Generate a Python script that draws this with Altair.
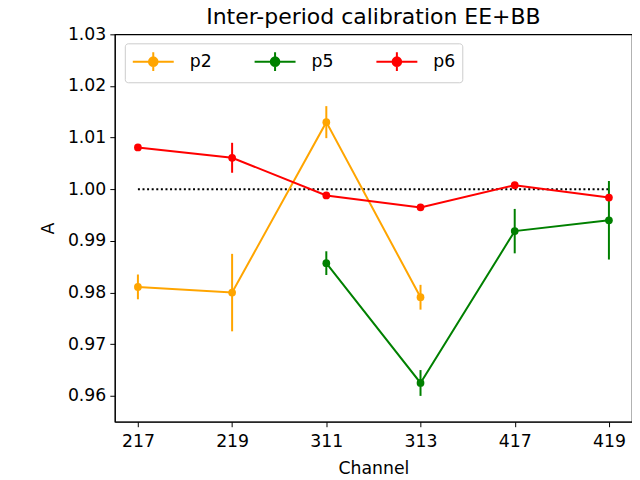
import altair as alt
import pandas as pd

channels = ["217", "219", "311", "313", "417", "419"]

p2_idx = [0, 1, 2, 3]
p2_val = [0.9811, 0.9800, 1.0130, 0.9791]
p2_err = [0.0024, 0.0075, 0.0031, 0.0024]

p5_idx = [2, 3, 4, 5]
p5_val = [0.9857, 0.9625, 0.9919, 0.9940]
p5_err = [0.0023, 0.0025, 0.0043, 0.0076]

p6_idx = [0, 1, 2, 3, 4, 5]
p6_val = [1.0081, 1.0061, 0.9988, 0.9965, 1.0008, 0.9984]
p6_err = [0.0002, 0.0029, 0.0002, 0.0002, 0.0003, 0.0002]

series_names = ["p2", "p5", "p6"]
series_colors = ["orange", "green", "red"]

rows = []
for name, idx, val, err in [("p2", p2_idx, p2_val, p2_err),
                            ("p5", p5_idx, p5_val, p5_err),
                            ("p6", p6_idx, p6_val, p6_err)]:
    for i, v, e in zip(idx, val, err):
        rows.append({"series": name, "x": i, "A": v, "lo": v - e, "hi": v + e})
df = pd.DataFrame(rows)

ref_df = pd.DataFrame({"x": [0, 5], "A": [1.0, 1.0]})

label_expr = "[" + ",".join(f"'{c}'" for c in channels) + "][datum.value]"

FONT = "DejaVu Sans"
FS = 17.3

xscale = alt.Scale(domain=[-0.245, 5.245], nice=False, zero=False)
yscale = alt.Scale(domain=[0.955, 1.03], nice=False, zero=False)

xax = alt.Axis(values=list(range(6)), labelExpr=label_expr, title="Channel",
               grid=False, tickColor="black", domainColor="black", tickSize=5,
               labelFontSize=FS, titleFontSize=FS, labelColor="black",
               titleColor="black", titleFontWeight="normal", labelPadding=6,
               titlePadding=10, labelFont=FONT, titleFont=FONT)
yax = alt.Axis(values=[0.96, 0.97, 0.98, 0.99, 1.00, 1.01, 1.02, 1.03], format=".2f",
               title="A", grid=False, tickColor="black", domainColor="black", tickSize=5,
               labelFontSize=FS, titleFontSize=FS, labelColor="black",
               titleColor="black", titleFontWeight="normal", labelPadding=4,
               titlePadding=10, labelFont=FONT, titleFont=FONT)

# legend glyph: horizontal line, vertical error bar and dot (drawn from entry's left edge)
legend_path = ("M-1,0H3.1M1.05,-0.93V0.93"
               "M0.62,0A0.43,0.43,0,1,0,1.48,0A0.43,0.43,0,1,0,0.62,0Z")

color = alt.Color("series:N",
                  scale=alt.Scale(domain=series_names, range=series_colors),
                  legend=alt.Legend(
                      title=None, orient="none", legendX=10, legendY=9,
                      direction="horizontal", columns=3,
                      symbolType=legend_path,
                      symbolSize=400, symbolStrokeWidth=2,
                      labelFontSize=FS, labelFont=FONT, labelColor="black",
                      columnPadding=39, labelOffset=36,
                      strokeColor="#cccccc", cornerRadius=3, padding=7,
                      fillColor="white"))

base = alt.Chart(df)

lines = base.mark_line(strokeWidth=2).encode(
    x=alt.X("x:Q", scale=xscale, axis=xax),
    y=alt.Y("A:Q", scale=yscale, axis=yax),
    color=color,
)
errs = base.mark_rule(strokeWidth=2).encode(
    x="x:Q", y="lo:Q", y2="hi:Q", color=alt.Color("series:N", legend=None,
        scale=alt.Scale(domain=series_names, range=series_colors)),
)
pts = base.mark_point(filled=True, size=60, opacity=1, shape="circle").encode(
    x="x:Q", y="A:Q", color=color,
)
ref = alt.Chart(ref_df).mark_line(color="black", strokeDash=[2, 2.6], strokeWidth=2).encode(
    x="x:Q", y="A:Q",
)

chart = alt.layer(ref, lines, errs, pts).properties(
    width=518, height=388,
    title=alt.TitleParams("Inter-period calibration EE+BB", fontSize=22,
                          font=FONT, fontWeight="normal", color="black",
                          anchor="middle", frame="group", offset=-4),
    autosize=alt.AutoSizeParams(type="none"),
    padding={"left": 107, "top": 26, "right": 0, "bottom": 58},
).configure(background="white").configure_view(stroke="black", strokeWidth=1.2)

chart.save("out.html", embed_options={"renderer": "svg", "actions": False})
